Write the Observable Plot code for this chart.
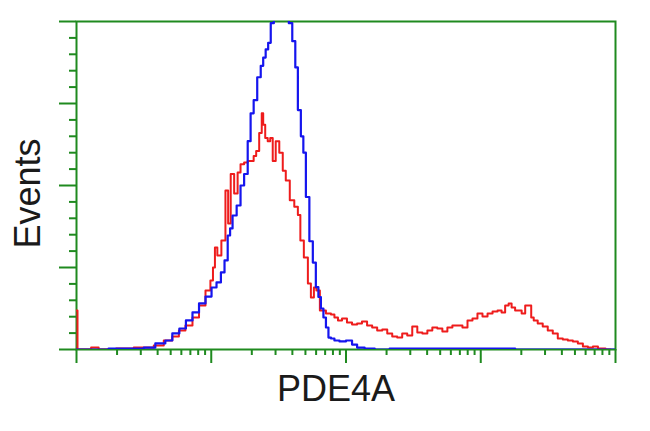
<!DOCTYPE html>
<html>
<head>
<meta charset="utf-8">
<script src="https://cdn.jsdelivr.net/npm/d3@7"></script>
<script src="https://cdn.jsdelivr.net/npm/@observablehq/plot@0.6"></script>
<style>
  html, body { margin: 0; padding: 0; background: #fff; }
  #chart { width: 650px; height: 431px; }
</style>
</head>
<body>
<div id="chart"></div>
<script>
// Fluorescence channel (log axis) and event counts for each histogram
const blueChannel = [1,1.46,2.05,2.9,3.44,4.3,4.84,5.46,6.16,6.83,7.71,8.54,9.62,10.5,11.4,12.2,12.9,13.6,14.0,14.8,16.1,16.9,18.2,19.1,20.1,21.2,22.7,23.9,24.7,26.0,26.9,28.4,29.9,33.1,36.7,38.6,41.3,42.8,45.1,47.4,49.1,51.7,55.3,58.2,61.3,63.5,66.8,69.2,72.8,75.4,79.3,84.9,94.2,106,116,126,150,178,250,590,1390,2330,4620,9840];
const blueCount   = [0,0,0.6,0.6,1.2,3.7,5.5,9.8,12.8,17.7,22.6,28.1,32.3,37.8,40.9,47,54.3,69.5,73.8,81.7,87.8,100,107,127,144,152,166,173,178,183,187,199,210,219,210,199,188,172,146,130,120,93,66,53,38,32,25,19.5,13.4,7.3,6.7,5.5,4.9,5.5,3,1.2,0.6,0,0.6,0.6,0.6,0,0,0];

const redChannel = [1,1.035,1.23,1.34,1.59,2.44,2.9,3.44,4.08,4.84,5.46,6.06,6.83,7.71,8.54,9.62,10.1,10.5,10.8,11.4,12.4,13.1,13.6,14.3,15.3,16.1,16.9,18.2,19.1,20.1,21.2,21.9,23.5,23.9,24.7,25.6,26.9,27.9,29.3,30.9,33.1,34.8,36.7,39.9,42.8,45.1,46.6,50.8,53.5,56.3,59.3,61.3,66.8,75.4,79.3,84.9,89.5,97.5,106,116,126,137,150,163,178,194,211,230,250,273,297,324,353,385,419,456,497,542,590,643,700,764,832,906,986,1076,1172,1277,1390,1466,1570,1652,1738,1862,1960,2065,2212,2328,2410,2536,2762,3010,3280,3575,3890,4245,4620,5040,5480,5985,6510,7100,7730,9180];
const redCount   = [23.8,0,0,1.2,0,0.6,1.2,1.2,2.4,5.5,7.9,11.6,14.6,19.5,26.8,36,42.1,50,62.2,57.3,66.5,97,76.8,107,95.1,108,113,114,115,115,118,121,132,144,137,129,127,129,115,127,120,109,103,91,87,82,66.5,56.1,40.2,31.7,37.8,36,23.8,22,21.3,19.5,17.7,18.9,16.5,15.2,15.9,17.1,14.6,13.4,11.6,12.2,9.8,7.9,7.3,9.8,8.5,14,10.4,9.8,11.6,13.4,12.8,11,13.4,14.6,14.6,13.4,17.7,18.9,22,20.1,22,23.2,23.8,22.6,26.8,28.1,25.6,23.8,23.8,22,26.8,26.8,19.5,17.7,15.9,14,11.6,9.8,6.7,6.1,5.5,4.9,3.7,1.8,1.2,1.8,0.6,0];

// Axis ticks
const xMajorTicks = [1, 10, 100, 1000, 10000];
const xMinorTicks = [2,3,4,5,6,7,8,9,20,30,40,50,60,70,80,90,200,300,400,500,600,700,800,900,2000,3000,4000,5000,6000,7000,8000,9000];
const yMajorTicks = [0, 50, 100, 150, 200];
const yMinorTicks = [10,20,30,40,60,70,80,90,110,120,130,140,160,170,180,190];

const xLabel = "PDE4A";
const yLabel = "Events";

const blue = blueChannel.map((c, i) => ({channel: c, count: blueCount[i]}));
const red = redChannel.map((c, i) => ({channel: c, count: redCount[i]}));

const green = "#1f8a1f";
const font = "'Liberation Sans', Arial, Helvetica, sans-serif";

const chart = Plot.plot({
  width: 650,
  height: 431,
  marginLeft: 76,
  marginRight: 35,
  marginTop: 21,
  marginBottom: 82,
  style: {fontFamily: font, background: "#fff"},
  x: {type: "log", domain: [1, 10000]},
  y: {domain: [0, 200]},
  marks: [
    Plot.frame({stroke: green, strokeWidth: 2}),
    Plot.axisY(yMajorTicks, {tickSize: 17, stroke: green, strokeWidth: 2, fill: "none", label: null}),
    Plot.axisY(yMinorTicks, {tickSize: 7, stroke: green, strokeWidth: 2, fill: "none", label: null}),
    Plot.axisX(xMajorTicks, {tickSize: 14, stroke: green, strokeWidth: 2, fill: "none", label: null}),
    Plot.axisX(xMinorTicks, {tickSize: 6, stroke: green, strokeWidth: 2, fill: "none", label: null}),
    Plot.line(red, {x: "channel", y: "count", curve: "step", stroke: "#ee1c1c", strokeWidth: 2, clip: true}),
    Plot.line(blue, {x: "channel", y: "count", curve: "step", stroke: "#1515ee", strokeWidth: 2.2, clip: true}),
    Plot.text([yLabel], {frameAnchor: "left", text: d => d, rotate: -90, textAnchor: "middle", lineAnchor: "middle", dx: -48, dy: 8, fontSize: 36, fill: "#1a1a1a"}),
    Plot.text([xLabel], {frameAnchor: "bottom", text: d => d, dx: -10, dy: 51, fontSize: 36, fill: "#1a1a1a"})
  ]
});
document.getElementById("chart").appendChild(chart);
</script>
</body>
</html>
